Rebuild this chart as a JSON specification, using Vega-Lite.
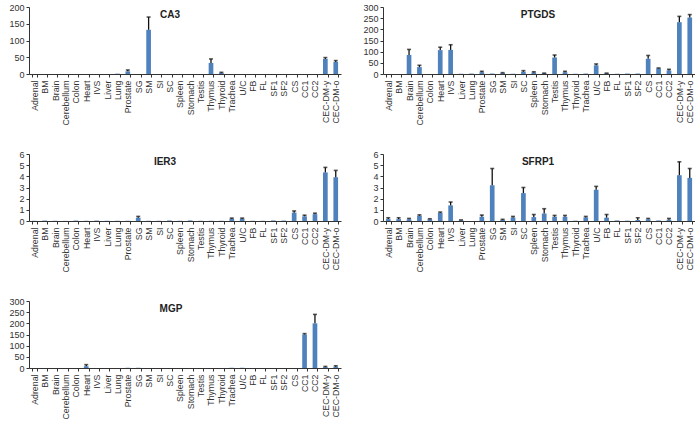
{
  "$schema": "https://vega.github.io/schema/vega-lite/v6.json",
  "padding": {"left": 8, "top": 3, "right": 0, "bottom": 0},
  "background": "white",
  "config": {
    "font": "Liberation Sans",
    "view": {"stroke": null},
    "axis": {
      "grid": false,
      "title": null,
      "labelFontSize": 9,
      "labelColor": "#333333",
      "domainColor": "#333333",
      "tickColor": "#333333",
      "tickSize": 3,
      "labelPadding": 2,
      "labelOverlap": false
    },
    "axisX": {"labelAngle": -90, "tickBand": "extent", "labelPadding": 3, "labelFontSize": 8.8},
    "axisY": {"labelBound": false},
    "title": {"fontSize": 10, "fontWeight": "bold", "color": "#222222", "frame": "group", "anchor": "middle"}
  },
  "data": {
    "values": [
      {"gene": "CA3", "tissue": "Adrenal", "value": 0, "upper": null},
      {"gene": "CA3", "tissue": "BM", "value": 0, "upper": null},
      {"gene": "CA3", "tissue": "Brain", "value": 0, "upper": null},
      {"gene": "CA3", "tissue": "Cerebellum", "value": 0, "upper": null},
      {"gene": "CA3", "tissue": "Colon", "value": 0, "upper": null},
      {"gene": "CA3", "tissue": "Heart", "value": 0, "upper": null},
      {"gene": "CA3", "tissue": "IVS", "value": 0, "upper": null},
      {"gene": "CA3", "tissue": "Liver", "value": 0, "upper": null},
      {"gene": "CA3", "tissue": "Lung", "value": 1, "upper": null},
      {"gene": "CA3", "tissue": "Prostate", "value": 8, "upper": 12},
      {"gene": "CA3", "tissue": "SG", "value": 0, "upper": null},
      {"gene": "CA3", "tissue": "SM", "value": 132, "upper": 170},
      {"gene": "CA3", "tissue": "SI", "value": 0, "upper": null},
      {"gene": "CA3", "tissue": "SC", "value": 0, "upper": null},
      {"gene": "CA3", "tissue": "Spleen", "value": 0, "upper": null},
      {"gene": "CA3", "tissue": "Stomach", "value": 0, "upper": null},
      {"gene": "CA3", "tissue": "Testis", "value": 0, "upper": null},
      {"gene": "CA3", "tissue": "Thymus", "value": 33, "upper": 45},
      {"gene": "CA3", "tissue": "Thyroid", "value": 3, "upper": 5},
      {"gene": "CA3", "tissue": "Trachea", "value": 0, "upper": null},
      {"gene": "CA3", "tissue": "U/C", "value": 0, "upper": null},
      {"gene": "CA3", "tissue": "FB", "value": 0, "upper": null},
      {"gene": "CA3", "tissue": "FL", "value": 0, "upper": null},
      {"gene": "CA3", "tissue": "SF1", "value": 0, "upper": null},
      {"gene": "CA3", "tissue": "SF2", "value": 0, "upper": null},
      {"gene": "CA3", "tissue": "CS", "value": 0, "upper": null},
      {"gene": "CA3", "tissue": "CC1", "value": 0, "upper": null},
      {"gene": "CA3", "tissue": "CC2", "value": 0, "upper": null},
      {"gene": "CA3", "tissue": "CEC-DM-y", "value": 45, "upper": 49},
      {"gene": "CA3", "tissue": "CEC-DM-o", "value": 36, "upper": 40},

      {"gene": "PTGDS", "tissue": "Adrenal", "value": 0, "upper": null},
      {"gene": "PTGDS", "tissue": "BM", "value": 0, "upper": null},
      {"gene": "PTGDS", "tissue": "Brain", "value": 85, "upper": 110},
      {"gene": "PTGDS", "tissue": "Cerebellum", "value": 31, "upper": 39},
      {"gene": "PTGDS", "tissue": "Colon", "value": 0, "upper": null},
      {"gene": "PTGDS", "tissue": "Heart", "value": 107, "upper": 120},
      {"gene": "PTGDS", "tissue": "IVS", "value": 108, "upper": 131},
      {"gene": "PTGDS", "tissue": "Liver", "value": 1, "upper": null},
      {"gene": "PTGDS", "tissue": "Lung", "value": 2, "upper": null},
      {"gene": "PTGDS", "tissue": "Prostate", "value": 8, "upper": 12},
      {"gene": "PTGDS", "tissue": "SG", "value": 2, "upper": null},
      {"gene": "PTGDS", "tissue": "SM", "value": 4, "upper": 6},
      {"gene": "PTGDS", "tissue": "SI", "value": 1, "upper": null},
      {"gene": "PTGDS", "tissue": "SC", "value": 10, "upper": 15},
      {"gene": "PTGDS", "tissue": "Spleen", "value": 7, "upper": 10},
      {"gene": "PTGDS", "tissue": "Stomach", "value": 3, "upper": 4},
      {"gene": "PTGDS", "tissue": "Testis", "value": 74, "upper": 85},
      {"gene": "PTGDS", "tissue": "Thymus", "value": 8, "upper": 12},
      {"gene": "PTGDS", "tissue": "Thyroid", "value": 1, "upper": null},
      {"gene": "PTGDS", "tissue": "Trachea", "value": 2, "upper": null},
      {"gene": "PTGDS", "tissue": "U/C", "value": 39, "upper": 45},
      {"gene": "PTGDS", "tissue": "FB", "value": 3, "upper": 4},
      {"gene": "PTGDS", "tissue": "FL", "value": 1, "upper": null},
      {"gene": "PTGDS", "tissue": "SF1", "value": 2, "upper": null},
      {"gene": "PTGDS", "tissue": "SF2", "value": 2, "upper": null},
      {"gene": "PTGDS", "tissue": "CS", "value": 68, "upper": 83},
      {"gene": "PTGDS", "tissue": "CC1", "value": 25, "upper": 27},
      {"gene": "PTGDS", "tissue": "CC2", "value": 16, "upper": 21},
      {"gene": "PTGDS", "tissue": "CEC-DM-y", "value": 232, "upper": 258},
      {"gene": "PTGDS", "tissue": "CEC-DM-o", "value": 253, "upper": 266},

      {"gene": "IER3", "tissue": "Adrenal", "value": 0.02, "upper": null},
      {"gene": "IER3", "tissue": "BM", "value": 0.04, "upper": null},
      {"gene": "IER3", "tissue": "Brain", "value": 0.02, "upper": null},
      {"gene": "IER3", "tissue": "Cerebellum", "value": 0.01, "upper": null},
      {"gene": "IER3", "tissue": "Colon", "value": 0.04, "upper": null},
      {"gene": "IER3", "tissue": "Heart", "value": 0.02, "upper": null},
      {"gene": "IER3", "tissue": "IVS", "value": 0.04, "upper": null},
      {"gene": "IER3", "tissue": "Liver", "value": 0.02, "upper": null},
      {"gene": "IER3", "tissue": "Lung", "value": 0.02, "upper": null},
      {"gene": "IER3", "tissue": "Prostate", "value": 0.02, "upper": null},
      {"gene": "IER3", "tissue": "SG", "value": 0.29, "upper": 0.41},
      {"gene": "IER3", "tissue": "SM", "value": 0.02, "upper": null},
      {"gene": "IER3", "tissue": "SI", "value": 0.02, "upper": null},
      {"gene": "IER3", "tissue": "SC", "value": 0.05, "upper": null},
      {"gene": "IER3", "tissue": "Spleen", "value": 0.02, "upper": null},
      {"gene": "IER3", "tissue": "Stomach", "value": 0.05, "upper": null},
      {"gene": "IER3", "tissue": "Testis", "value": 0.02, "upper": null},
      {"gene": "IER3", "tissue": "Thymus", "value": 0.02, "upper": null},
      {"gene": "IER3", "tissue": "Thyroid", "value": 0.02, "upper": null},
      {"gene": "IER3", "tissue": "Trachea", "value": 0.2, "upper": 0.26},
      {"gene": "IER3", "tissue": "U/C", "value": 0.2, "upper": 0.26},
      {"gene": "IER3", "tissue": "FB", "value": 0.02, "upper": null},
      {"gene": "IER3", "tissue": "FL", "value": 0.02, "upper": null},
      {"gene": "IER3", "tissue": "SF1", "value": 0.05, "upper": null},
      {"gene": "IER3", "tissue": "SF2", "value": 0.04, "upper": null},
      {"gene": "IER3", "tissue": "CS", "value": 0.75, "upper": 0.9},
      {"gene": "IER3", "tissue": "CC1", "value": 0.42, "upper": 0.52},
      {"gene": "IER3", "tissue": "CC2", "value": 0.61, "upper": 0.7},
      {"gene": "IER3", "tissue": "CEC-DM-y", "value": 4.35, "upper": 4.8},
      {"gene": "IER3", "tissue": "CEC-DM-o", "value": 3.92, "upper": 4.53},

      {"gene": "SFRP1", "tissue": "Adrenal", "value": 0.17, "upper": 0.29},
      {"gene": "SFRP1", "tissue": "BM", "value": 0.17, "upper": 0.29},
      {"gene": "SFRP1", "tissue": "Brain", "value": 0.15, "upper": 0.23},
      {"gene": "SFRP1", "tissue": "Cerebellum", "value": 0.47, "upper": 0.55},
      {"gene": "SFRP1", "tissue": "Colon", "value": 0.15, "upper": 0.2},
      {"gene": "SFRP1", "tissue": "Heart", "value": 0.73, "upper": 0.8},
      {"gene": "SFRP1", "tissue": "IVS", "value": 1.4, "upper": 1.7},
      {"gene": "SFRP1", "tissue": "Liver", "value": 0.06, "upper": 0.1},
      {"gene": "SFRP1", "tissue": "Lung", "value": 0, "upper": null},
      {"gene": "SFRP1", "tissue": "Prostate", "value": 0.38, "upper": 0.53},
      {"gene": "SFRP1", "tissue": "SG", "value": 3.2, "upper": 4.7},
      {"gene": "SFRP1", "tissue": "SM", "value": 0.1, "upper": 0.15},
      {"gene": "SFRP1", "tissue": "SI", "value": 0.32, "upper": 0.41},
      {"gene": "SFRP1", "tissue": "SC", "value": 2.5, "upper": 3.0},
      {"gene": "SFRP1", "tissue": "Spleen", "value": 0.35, "upper": 0.58},
      {"gene": "SFRP1", "tissue": "Stomach", "value": 0.67, "upper": 1.1},
      {"gene": "SFRP1", "tissue": "Testis", "value": 0.38, "upper": 0.5},
      {"gene": "SFRP1", "tissue": "Thymus", "value": 0.38, "upper": 0.5},
      {"gene": "SFRP1", "tissue": "Thyroid", "value": 0.03, "upper": null},
      {"gene": "SFRP1", "tissue": "Trachea", "value": 0.32, "upper": 0.41},
      {"gene": "SFRP1", "tissue": "U/C", "value": 2.8, "upper": 3.1},
      {"gene": "SFRP1", "tissue": "FB", "value": 0.3, "upper": 0.58},
      {"gene": "SFRP1", "tissue": "FL", "value": 0.05, "upper": null},
      {"gene": "SFRP1", "tissue": "SF1", "value": 0.03, "upper": null},
      {"gene": "SFRP1", "tissue": "SF2", "value": 0.09, "upper": 0.29},
      {"gene": "SFRP1", "tissue": "CS", "value": 0.15, "upper": 0.23},
      {"gene": "SFRP1", "tissue": "CC1", "value": 0.05, "upper": null},
      {"gene": "SFRP1", "tissue": "CC2", "value": 0.12, "upper": 0.23},
      {"gene": "SFRP1", "tissue": "CEC-DM-y", "value": 4.1, "upper": 5.3},
      {"gene": "SFRP1", "tissue": "CEC-DM-o", "value": 3.86, "upper": 4.7},

      {"gene": "MGP", "tissue": "Adrenal", "value": 0, "upper": null},
      {"gene": "MGP", "tissue": "BM", "value": 0, "upper": null},
      {"gene": "MGP", "tissue": "Brain", "value": 0, "upper": null},
      {"gene": "MGP", "tissue": "Cerebellum", "value": 0, "upper": null},
      {"gene": "MGP", "tissue": "Colon", "value": 0, "upper": null},
      {"gene": "MGP", "tissue": "Heart", "value": 8, "upper": 15},
      {"gene": "MGP", "tissue": "IVS", "value": 0, "upper": null},
      {"gene": "MGP", "tissue": "Liver", "value": 0, "upper": null},
      {"gene": "MGP", "tissue": "Lung", "value": 0, "upper": null},
      {"gene": "MGP", "tissue": "Prostate", "value": 1, "upper": null},
      {"gene": "MGP", "tissue": "SG", "value": 1, "upper": null},
      {"gene": "MGP", "tissue": "SM", "value": 0, "upper": null},
      {"gene": "MGP", "tissue": "SI", "value": 0, "upper": null},
      {"gene": "MGP", "tissue": "SC", "value": 0, "upper": null},
      {"gene": "MGP", "tissue": "Spleen", "value": 0, "upper": null},
      {"gene": "MGP", "tissue": "Stomach", "value": 0, "upper": null},
      {"gene": "MGP", "tissue": "Testis", "value": 0, "upper": null},
      {"gene": "MGP", "tissue": "Thymus", "value": 0, "upper": null},
      {"gene": "MGP", "tissue": "Thyroid", "value": 0, "upper": null},
      {"gene": "MGP", "tissue": "Trachea", "value": 1, "upper": null},
      {"gene": "MGP", "tissue": "U/C", "value": 1, "upper": null},
      {"gene": "MGP", "tissue": "FB", "value": 0, "upper": null},
      {"gene": "MGP", "tissue": "FL", "value": 0, "upper": null},
      {"gene": "MGP", "tissue": "SF1", "value": 0, "upper": null},
      {"gene": "MGP", "tissue": "SF2", "value": 0, "upper": null},
      {"gene": "MGP", "tissue": "CS", "value": 0, "upper": null},
      {"gene": "MGP", "tissue": "CC1", "value": 150, "upper": 154},
      {"gene": "MGP", "tissue": "CC2", "value": 200, "upper": 240},
      {"gene": "MGP", "tissue": "CEC-DM-y", "value": 4, "upper": 7},
      {"gene": "MGP", "tissue": "CEC-DM-o", "value": 6, "upper": 10}
    ]
  },
  "columns": 2,
  "spacing": {"row": 25, "column": 21},
  "concat": [
    {
      "title": {"text": "CA3", "offset": -17, "dx": -15},
      "width": 312,
      "height": 67,
      "transform": [{"filter": "datum.gene === 'CA3'"}],
      "encoding": {
        "x": {
          "field": "tissue",
          "type": "nominal",
          "sort": null,
          "scale": {"domain": ["Adrenal","BM","Brain","Cerebellum","Colon","Heart","IVS","Liver","Lung","Prostate","SG","SM","SI","SC","Spleen","Stomach","Testis","Thymus","Thyroid","Trachea","U/C","FB","FL","SF1","SF2","CS","CC1","CC2","CEC-DM-y","CEC-DM-o"], "paddingInner": 0.55, "paddingOuter": 0.28},
          "axis": {"title": null}
        }
      },
      "layer": [
        {
          "mark": {"type": "bar", "color": "#4F81BD"},
          "encoding": {"y": {"field": "value", "type": "quantitative", "scale": {"domain": [0, 200]}, "axis": {"values": [0, 50, 100, 150, 200]}}}
        },
        {
          "mark": {"type": "rule", "color": "#111111", "strokeWidth": 1.3},
          "encoding": {"y": {"field": "value", "type": "quantitative", "axis": {"values": [0, 50, 100, 150, 200]}}, "y2": {"field": "upper"}}
        },
        {
          "mark": {"type": "tick", "color": "#111111", "size": 4, "thickness": 1.6},
          "encoding": {"y": {"field": "upper", "type": "quantitative", "axis": {"values": [0, 50, 100, 150, 200]}}}
        }
      ]
    },
    {
      "title": {"text": "PTGDS", "offset": -17, "dx": -1},
      "width": 312,
      "height": 67,
      "transform": [{"filter": "datum.gene === 'PTGDS'"}],
      "encoding": {
        "x": {
          "field": "tissue",
          "type": "nominal",
          "sort": null,
          "scale": {"domain": ["Adrenal","BM","Brain","Cerebellum","Colon","Heart","IVS","Liver","Lung","Prostate","SG","SM","SI","SC","Spleen","Stomach","Testis","Thymus","Thyroid","Trachea","U/C","FB","FL","SF1","SF2","CS","CC1","CC2","CEC-DM-y","CEC-DM-o"], "paddingInner": 0.55, "paddingOuter": 0.28},
          "axis": {"title": null}
        }
      },
      "layer": [
        {
          "mark": {"type": "bar", "color": "#4F81BD"},
          "encoding": {"y": {"field": "value", "type": "quantitative", "scale": {"domain": [0, 300]}, "axis": {"values": [0, 50, 100, 150, 200, 250, 300]}}}
        },
        {
          "mark": {"type": "rule", "color": "#111111", "strokeWidth": 1.3},
          "encoding": {"y": {"field": "value", "type": "quantitative", "axis": {"values": [0, 50, 100, 150, 200, 250, 300]}}, "y2": {"field": "upper"}}
        },
        {
          "mark": {"type": "tick", "color": "#111111", "size": 4, "thickness": 1.6},
          "encoding": {"y": {"field": "upper", "type": "quantitative", "axis": {"values": [0, 50, 100, 150, 200, 250, 300]}}}
        }
      ]
    },
    {
      "title": {"text": "IER3", "offset": -17, "dx": -20},
      "width": 312,
      "height": 67,
      "transform": [{"filter": "datum.gene === 'IER3'"}],
      "encoding": {
        "x": {
          "field": "tissue",
          "type": "nominal",
          "sort": null,
          "scale": {"domain": ["Adrenal","BM","Brain","Cerebellum","Colon","Heart","IVS","Liver","Lung","Prostate","SG","SM","SI","SC","Spleen","Stomach","Testis","Thymus","Thyroid","Trachea","U/C","FB","FL","SF1","SF2","CS","CC1","CC2","CEC-DM-y","CEC-DM-o"], "paddingInner": 0.55, "paddingOuter": 0.28},
          "axis": {"title": null}
        }
      },
      "layer": [
        {
          "mark": {"type": "bar", "color": "#4F81BD"},
          "encoding": {"y": {"field": "value", "type": "quantitative", "scale": {"domain": [0, 6]}, "axis": {"values": [0, 1, 2, 3, 4, 5, 6]}}}
        },
        {
          "mark": {"type": "rule", "color": "#111111", "strokeWidth": 1.3},
          "encoding": {"y": {"field": "value", "type": "quantitative", "axis": {"values": [0, 1, 2, 3, 4, 5, 6]}}, "y2": {"field": "upper"}}
        },
        {
          "mark": {"type": "tick", "color": "#111111", "size": 4, "thickness": 1.6},
          "encoding": {"y": {"field": "upper", "type": "quantitative", "axis": {"values": [0, 1, 2, 3, 4, 5, 6]}}}
        }
      ]
    },
    {
      "title": {"text": "SFRP1", "offset": -17, "dx": -1},
      "width": 312,
      "height": 67,
      "transform": [{"filter": "datum.gene === 'SFRP1'"}],
      "encoding": {
        "x": {
          "field": "tissue",
          "type": "nominal",
          "sort": null,
          "scale": {"domain": ["Adrenal","BM","Brain","Cerebellum","Colon","Heart","IVS","Liver","Lung","Prostate","SG","SM","SI","SC","Spleen","Stomach","Testis","Thymus","Thyroid","Trachea","U/C","FB","FL","SF1","SF2","CS","CC1","CC2","CEC-DM-y","CEC-DM-o"], "paddingInner": 0.55, "paddingOuter": 0.28},
          "axis": {"title": null}
        }
      },
      "layer": [
        {
          "mark": {"type": "bar", "color": "#4F81BD"},
          "encoding": {"y": {"field": "value", "type": "quantitative", "scale": {"domain": [0, 6]}, "axis": {"values": [0, 1, 2, 3, 4, 5, 6]}}}
        },
        {
          "mark": {"type": "rule", "color": "#111111", "strokeWidth": 1.3},
          "encoding": {"y": {"field": "value", "type": "quantitative", "axis": {"values": [0, 1, 2, 3, 4, 5, 6]}}, "y2": {"field": "upper"}}
        },
        {
          "mark": {"type": "tick", "color": "#111111", "size": 4, "thickness": 1.6},
          "encoding": {"y": {"field": "upper", "type": "quantitative", "axis": {"values": [0, 1, 2, 3, 4, 5, 6]}}}
        }
      ]
    },
    {
      "title": {"text": "MGP", "offset": -17, "dx": -14},
      "width": 312,
      "height": 67,
      "transform": [{"filter": "datum.gene === 'MGP'"}],
      "encoding": {
        "x": {
          "field": "tissue",
          "type": "nominal",
          "sort": null,
          "scale": {"domain": ["Adrenal","BM","Brain","Cerebellum","Colon","Heart","IVS","Liver","Lung","Prostate","SG","SM","SI","SC","Spleen","Stomach","Testis","Thymus","Thyroid","Trachea","U/C","FB","FL","SF1","SF2","CS","CC1","CC2","CEC-DM-y","CEC-DM-o"], "paddingInner": 0.55, "paddingOuter": 0.28},
          "axis": {"title": null}
        }
      },
      "layer": [
        {
          "mark": {"type": "bar", "color": "#4F81BD"},
          "encoding": {"y": {"field": "value", "type": "quantitative", "scale": {"domain": [0, 300]}, "axis": {"values": [0, 50, 100, 150, 200, 250, 300]}}}
        },
        {
          "mark": {"type": "rule", "color": "#111111", "strokeWidth": 1.3},
          "encoding": {"y": {"field": "value", "type": "quantitative", "axis": {"values": [0, 50, 100, 150, 200, 250, 300]}}, "y2": {"field": "upper"}}
        },
        {
          "mark": {"type": "tick", "color": "#111111", "size": 4, "thickness": 1.6},
          "encoding": {"y": {"field": "upper", "type": "quantitative", "axis": {"values": [0, 50, 100, 150, 200, 250, 300]}}}
        }
      ]
    }
  ]
}
